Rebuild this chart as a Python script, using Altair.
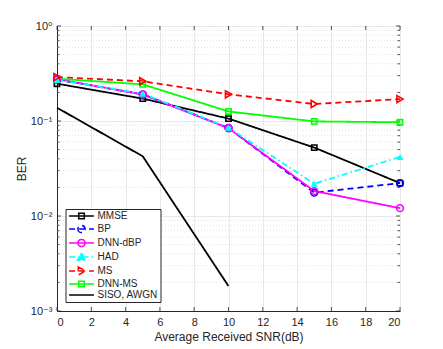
import altair as alt
import pandas as pd

# ---------------- data ----------------
snr = [0, 5, 10, 15, 20]
siso_snr = [0, 5, 10]
series_names = ["MMSE", "BP", "DNN-dBP", "HAD", "MS", "DNN-MS", "SISO, AWGN"]
mmse = [0.247, 0.172, 0.106, 0.0525, 0.0222]
bp = [0.273, 0.191, 0.0844, 0.0176, 0.0222]
dnn_dbp = [0.276, 0.190, 0.0840, 0.0183, 0.0121]
had = [0.270, 0.194, 0.0850, 0.0219, 0.0418]
ms = [0.290, 0.262, 0.191, 0.151, 0.170]
dnn_ms = [0.279, 0.243, 0.126, 0.099, 0.097]
siso = [0.138, 0.0425, 0.00183]

x_ticks = [0, 2, 4, 6, 8, 10, 12, 14, 16, 18, 20]
y_ticks = [0.001, 0.01, 0.1, 1]
y_tick_labels = ["10\u207b\u00b3", "10\u207b\u00b2", "10\u207b\u00b9", "10\u2070"]
y_minor = [m * d for d in (0.001, 0.01, 0.1) for m in range(2, 10)]

# ---------------- styles ----------------
colors = ["#000000", "#0000ff", "#ff00ff", "#00ffff", "#ff0000", "#00ff00", "#000000"]
dashes = [[1, 0], [6, 4], [1, 0], [6, 3, 1.5, 3], [6, 4], [1, 0], [1, 0]]
LINE = "M-3.1 0H3.1"
SQ = LINE + "M-0.7 -0.7H0.7V0.7H-0.7Z"
CI = LINE + "M-0.9 0A0.9 0.9 0 1 0 0.9 0A0.9 0.9 0 1 0 -0.9 0Z"
TU = LINE + "M0 -1L1 0.8H-1Z"
TR = LINE + "M-0.8 -1L1 0L-0.8 1Z"
legend_shapes = [SQ, CI, CI, TU, TR, SQ, LINE]
legend_fill = ["transparent", "transparent", "transparent", "#00ffff",
               "transparent", "transparent", "transparent"]

FONT = "Liberation Sans, Arial, DejaVu Sans"
TXT = "#262626"
W, H = 343, 285

rows = []
for name, vals in zip(series_names[:6], [mmse, bp, dnn_dbp, had, ms, dnn_ms]):
    for s, v in zip(snr, vals):
        rows.append({"snr": s, "ber": v, "series": name})
for s, v in zip(siso_snr, siso):
    rows.append({"snr": s, "ber": v, "series": "SISO, AWGN"})
df = pd.DataFrame(rows)

xs = alt.Scale(domain=[0, 20], nice=False)
ys = alt.Scale(type="log", domain=[0.001, 1], nice=False)
cs = alt.Scale(domain=series_names, range=colors)
ds = alt.Scale(domain=series_names, range=dashes)

label_expr = " : ".join(
    f"datum.value < {v * 1.5} ? '{l}'" for v, l in zip(y_ticks[:-1], y_tick_labels[:-1])
) + f" : '{y_tick_labels[-1]}'"

x_axis = alt.Axis(values=x_ticks, title="Average Received SNR(dB)", ticks=False,
                  labelPadding=5, titlePadding=4, grid=True, gridColor="#e8e8e8",
                  domainColor=TXT, labelColor=TXT, titleColor=TXT,
                  labelFontSize=11, titleFontSize=12, labelFont=FONT, titleFont=FONT,
                  titleFontWeight="normal")
y_axis = alt.Axis(values=y_ticks, labelExpr=label_expr, title="BER", ticks=False,
                  labelPadding=5, titlePadding=2, grid=True, gridColor="#e8e8e8",
                  domainColor=TXT, labelColor=TXT, titleColor=TXT,
                  labelFontSize=11, titleFontSize=12, labelFont=FONT, titleFont=FONT,
                  titleFontWeight="normal")

minor_df = pd.DataFrame({"v": y_minor})
major_df = pd.DataFrame({"v": y_ticks})
xt_df = pd.DataFrame({"x": x_ticks})

minor_grid = alt.Chart(minor_df).mark_rule(color="#d9d9d9", strokeDash=[1, 2], strokeWidth=0.8).encode(
    y=alt.Y("v:Q", scale=ys, axis=y_axis))

def yticks(d, length, side):
    x1 = 0 if side == "l" else W
    x2 = length if side == "l" else W - length
    return alt.Chart(d).mark_rule(color=TXT, strokeWidth=0.8).encode(
        y=alt.Y("v:Q", scale=ys, axis=y_axis), x=alt.value(x1), x2=alt.value(x2))

def xticks(side):
    y1 = H if side == "b" else 0
    y2 = H - 4 if side == "b" else 4
    return alt.Chart(xt_df).mark_rule(color=TXT, strokeWidth=0.8).encode(
        x=alt.X("x:Q", scale=xs, axis=x_axis), y=alt.value(y1), y2=alt.value(y2))

tick_layers = [yticks(minor_df, 2.5, "l"), yticks(minor_df, 2.5, "r"),
               yticks(major_df, 4, "l"), yticks(major_df, 4, "r"),
               xticks("b"), xticks("t")]

lines = alt.Chart(df).mark_line(strokeWidth=1.8).encode(
    x=alt.X("snr:Q", scale=xs, axis=x_axis),
    y=alt.Y("ber:Q", scale=ys, axis=y_axis),
    color=alt.Color("series:N", scale=cs, legend=None),
    strokeDash=alt.StrokeDash("series:N", scale=ds, legend=None),
    order="snr:Q",
)

def markers(names, shape, size, filled=False):
    return alt.Chart(df).transform_filter(
        alt.FieldOneOfPredicate(field="series", oneOf=names)
    ).mark_point(shape=shape, size=size, filled=filled, strokeWidth=1.6, opacity=1).encode(
        x=alt.X("snr:Q", scale=xs, axis=x_axis),
        y=alt.Y("ber:Q", scale=ys, axis=y_axis),
        color=alt.Color("series:N", scale=cs, legend=None),
    )

marker_layers = [
    markers(["MMSE", "DNN-MS"], "square", 28),
    markers(["BP", "DNN-dBP"], "circle", 45),
    markers(["HAD"], "triangle-up", 50, filled=True),
    markers(["MS"], "triangle-right", 50),
]

legend_layer = alt.Chart(df).transform_filter("false").mark_point(strokeWidth=1.5, opacity=1).encode(
    x=alt.X("snr:Q", scale=xs, axis=x_axis),
    y=alt.Y("ber:Q", scale=ys, axis=y_axis),
    color=alt.Color("series:N", scale=cs, legend=alt.Legend(
        title=None, orient="none", legendX=8.5, legendY=183,
        labelFontSize=10, labelFont=FONT, labelColor=TXT,
        symbolSize=64, symbolStrokeWidth=1.5, symbolOffset=9, labelOffset=11,
        rowPadding=0, padding=2, strokeColor=TXT, fillColor="white",
        labelLimit=200)),
    shape=alt.Shape("series:N", scale=alt.Scale(domain=series_names, range=legend_shapes)),
    strokeDash=alt.StrokeDash("series:N", scale=ds),
    fill=alt.Fill("series:N", scale=alt.Scale(domain=series_names, range=legend_fill)),
)

chart = alt.layer(minor_grid, *tick_layers, lines, *marker_layers, legend_layer).resolve_legend(
    color="independent", strokeDash="independent", shape="independent", fill="independent"
).properties(
    width=W, height=H,
    autosize=alt.AutoSizeParams(type="none"),
    padding={"left": 49, "top": 18, "right": 20, "bottom": 40},
).configure_view(stroke=TXT, strokeWidth=1)

chart.save("out.html", embed_options={"renderer": "svg", "actions": False})
